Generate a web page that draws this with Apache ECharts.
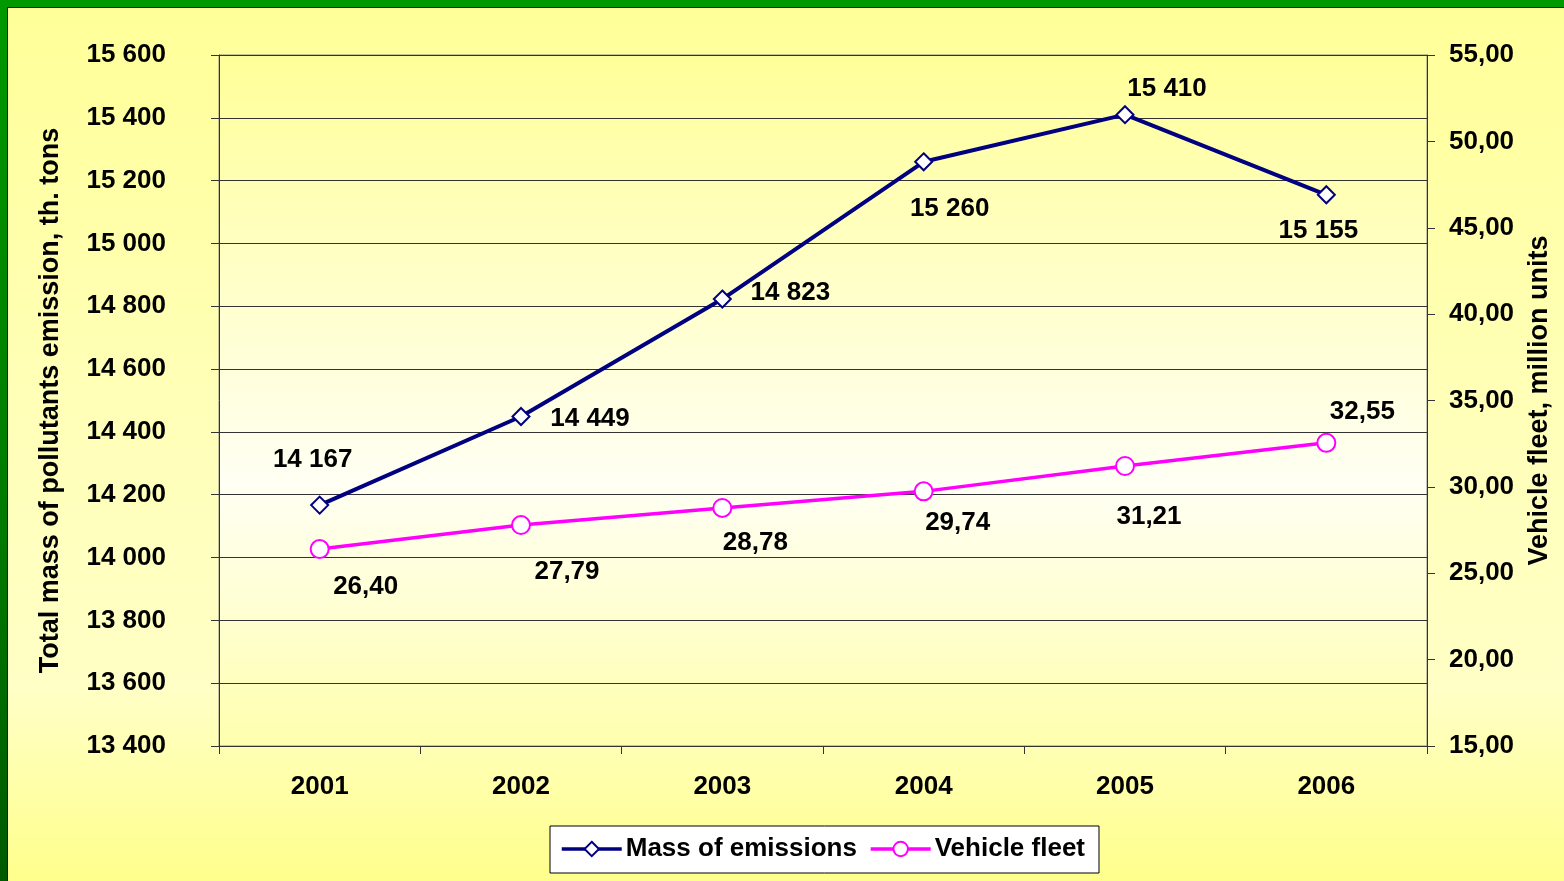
<!DOCTYPE html>
<html>
<head>
<meta charset="utf-8">
<script src="https://cdn.jsdelivr.net/npm/echarts@6/dist/echarts.min.js"></script>
<style>
  html, body { margin: 0; padding: 0; width: 1564px; height: 881px; overflow: hidden; }
  #frame { position: absolute; left: 0; top: 0; width: 1564px; height: 881px;
    background: linear-gradient(to bottom, #009900 0%, #007a00 60%, #005a00 100%); }
  #chart { position: absolute; left: 7px; top: 7px; width: 1557px; height: 874px;
    border-left: 1px solid #1a1a1a; border-top: 1px solid #1a1a1a; }
</style>
</head>
<body>
<div id="frame"></div>
<div id="chart"></div>
<script>
const categories = ['2001', '2002', '2003', '2004', '2005', '2006'];
const massOfEmissions = [14167, 14449, 14823, 15260, 15410, 15155];
const vehicleFleet = [26.40, 27.79, 28.78, 29.74, 31.21, 32.55];
const seriesNames = ['Mass of emissions', 'Vehicle fleet'];
const leftAxisName = 'Total mass of pollutants emission, th. tons';
const rightAxisName = 'Vehicle fleet, million units';

// label offsets (style only)
const massLabelOffsets = [[-7, -45], [69, 2], [68, -6], [26, 47], [42, -26], [-8, 36]];
const fleetLabelOffsets = [[46, 38], [46, 47], [33, 35], [34, 31], [24, 51], [36, -31]];

const FONT = '"Liberation Sans", Arial, sans-serif';
const fmtThousands = v => String(Math.round(v)).replace(/\B(?=(\d{3})+(?!\d))/g, ' ');
const fmtDecimal = v => Number(v).toFixed(2).replace('.', ',');

const chart = echarts.init(document.getElementById('chart'), null, { renderer: 'canvas' });

const labelStyle = { fontFamily: FONT, fontWeight: 'bold', fontSize: 26, color: '#000' };
const titleStyle = { fontFamily: FONT, fontWeight: 'bold', fontSize: 27, color: '#000' };

chart.setOption({
  animation: false,
  backgroundColor: {
    type: 'linear', x: 0, y: 0, x2: 0, y2: 1,
    colorStops: [
      { offset: 0, color: '#ffff99' },
      { offset: 0.45, color: '#ffffb8' },
      { offset: 0.78, color: '#ffffc6' },
      { offset: 1, color: '#ffff8c' }
    ]
  },
  grid: {
    left: 211, top: 47, width: 1208, height: 691,
    show: true,
    borderColor: '#888888', borderWidth: 1,
    backgroundColor: {
      type: 'linear', x: 0, y: 0, x2: 0, y2: 1,
      colorStops: [
        { offset: 0, color: '#ffff99' },
        { offset: 0.62, color: '#fffff4' },
        { offset: 1, color: '#ffffae' }
      ]
    }
  },
  legend: {
    left: 542, top: 818,
    padding: [10, 14, 11, 10],
    backgroundColor: '#ffffff',
    borderColor: '#000000', borderWidth: 1, borderRadius: 0,
    itemWidth: 60, itemHeight: 18, itemGap: 12,
    lineStyle: { width: 3.5 },
    textStyle: { fontFamily: FONT, fontWeight: 'bold', fontSize: 26, color: '#000', padding: [2, 0, 0, -1] },
    data: seriesNames
  },
  xAxis: {
    type: 'category',
    data: categories,
    boundaryGap: true,
    axisLine: { show: true, lineStyle: { color: '#333333', width: 1 } },
    axisTick: { show: true, length: 8, interval: 0, lineStyle: { color: '#333333' } },
    axisLabel: { margin: 28, ...labelStyle, interval: 0 },
    splitLine: { show: false }
  },
  yAxis: [
    {
      type: 'value', position: 'left',
      min: 13400, max: 15600, interval: 200,
      name: leftAxisName, nameLocation: 'middle', nameGap: 155, nameRotate: 90,
      nameTextStyle: { ...titleStyle },
      axisLine: { show: true, lineStyle: { color: '#333333', width: 1 } },
      axisTick: { show: true, length: 8, lineStyle: { color: '#333333' } },
      axisLabel: { margin: 53, ...labelStyle, formatter: fmtThousands },
      splitLine: { show: true, lineStyle: { color: '#333333', width: 1 } }
    },
    {
      type: 'value', position: 'right',
      min: 15, max: 55, interval: 5,
      name: rightAxisName, nameLocation: 'middle', nameGap: 99, nameRotate: 90,
      nameTextStyle: { ...titleStyle },
      axisLine: { show: true, lineStyle: { color: '#333333', width: 1 } },
      axisTick: { show: true, length: 8, lineStyle: { color: '#333333' } },
      axisLabel: { margin: 22, ...labelStyle, formatter: fmtDecimal },
      splitLine: { show: false }
    }
  ],
  series: [
    {
      name: seriesNames[0], type: 'line', yAxisIndex: 0,
      data: massOfEmissions.map((v, i) => ({
        value: v,
        label: { offset: massLabelOffsets[i] }
      })),
      symbol: 'diamond', symbolSize: 17,
      itemStyle: { color: '#ffffff', borderColor: '#000080', borderWidth: 2 },
      lineStyle: { color: '#000080', width: 4 },
      label: { show: true, position: 'inside', ...labelStyle, formatter: p => fmtThousands(p.value) },
      z: 3
    },
    {
      name: seriesNames[1], type: 'line', yAxisIndex: 1,
      data: vehicleFleet.map((v, i) => ({
        value: v,
        label: { offset: fleetLabelOffsets[i] }
      })),
      symbol: 'circle', symbolSize: 18,
      itemStyle: { color: '#ffffff', borderColor: '#ff00ff', borderWidth: 2 },
      lineStyle: { color: '#ff00ff', width: 3.5 },
      label: { show: true, position: 'inside', ...labelStyle, formatter: p => fmtDecimal(p.value) },
      z: 2
    }
  ]
});
</script>
</body>
</html>
